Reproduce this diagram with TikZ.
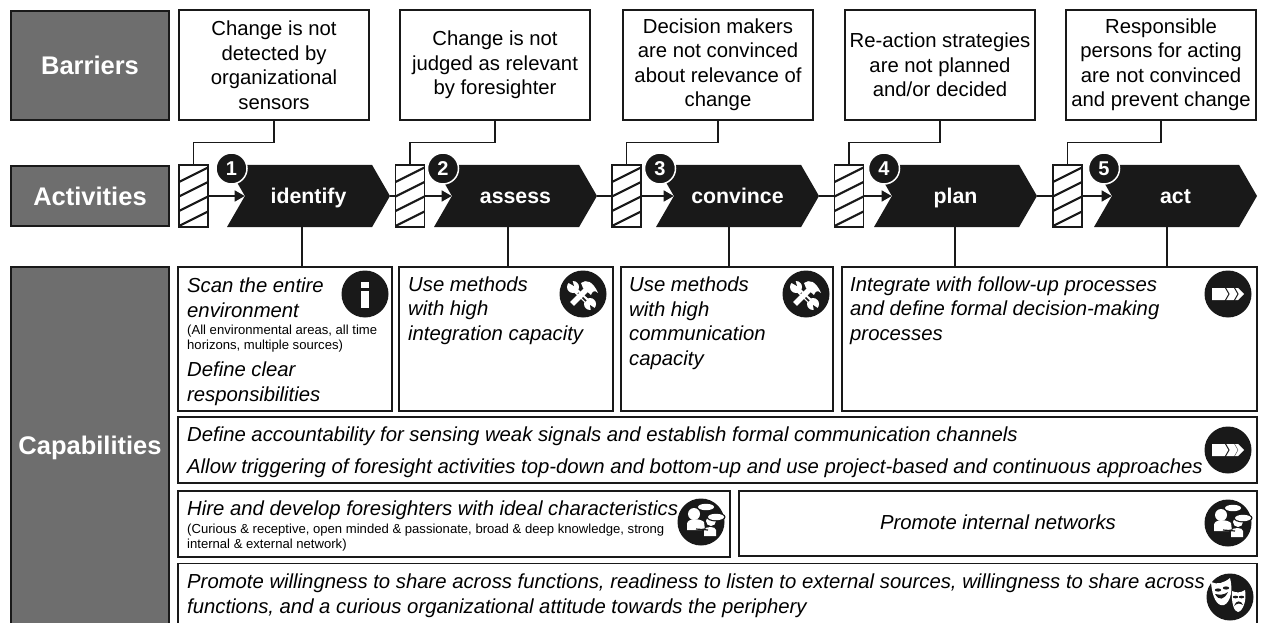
\documentclass[tikz,border=0pt]{standalone}
\usepackage{fontspec}
\setmainfont{Liberation Sans}
\usetikzlibrary{shapes.symbols}
\usetikzlibrary{arrows.meta}
\definecolor{headgray}{HTML}{6E6E6E}
\definecolor{darkfill}{HTML}{191919}
\tikzset{
    headbox/.style = {rectangle, draw=darkfill, line width=1.5pt, fill=headgray, text=white, inner sep=0pt, font=\fontsize{25.5}{30}\selectfont\bfseries},
    barbox/.style = {rectangle, draw=darkfill, line width=1.5pt, minimum width=190pt, minimum height=110pt, inner sep=0pt, align=center, font=\fontsize{20.3}{24.5}\selectfont},
    capbox/.style = {rectangle, draw=darkfill, line width=1.5pt, inner sep=0pt},
    captext/.style = {anchor=base west, align=left, inner sep=0pt, font=\fontsize{20.3}{24.5}\selectfont\itshape},
    capnote/.style = {anchor=base west, align=left, inner sep=0pt, font=\fontsize{13.1}{15}\selectfont},
    hatchbox/.style = {rectangle, draw=darkfill, line width=1.5pt, fill=white, minimum width=29pt, minimum height=62pt, inner sep=0pt,
      path picture={
        \draw[line width=2.2pt,darkfill] ([yshift=1pt]path picture bounding box.south west) -- ++(32,-16);
        \draw[line width=2.2pt,darkfill] ([yshift=16pt]path picture bounding box.south west) -- ++(32,-16);
        \draw[line width=2.2pt,darkfill] ([yshift=30.5pt]path picture bounding box.south west) -- ++(32,-16);
        \draw[line width=2.2pt,darkfill] ([yshift=45pt]path picture bounding box.south west) -- ++(32,-16);
      }},
    chevron/.style = {signal, signal to=east, signal from=west, signal pointer angle=120, fill=darkfill, text=white, minimum width=163pt, minimum height=62pt, inner sep=0pt, text height=15.4pt, text depth=0pt, font=\fontsize{21.3}{25}\selectfont\bfseries},
    stepnum/.style = {circle, draw=white, line width=1.5pt, fill=darkfill, text=white, minimum size=31pt, inner sep=0pt, font=\fontsize{20}{22}\selectfont\bfseries},
    icondisc/.style = {circle, fill=darkfill, minimum size=47pt, inner sep=0pt},
    link/.style = {draw=darkfill, line width=1.5pt},
    flow/.style = {draw=darkfill, line width=1.5pt, -{Triangle[length=10pt,width=11pt]}},
    iconinfo/.pic = {
      \fill[white] (-4,-12) rectangle (3.5,-6);
      \fill[white] (-4,-3) rectangle (3.5,14);
    },
    icontools/.pic = {
      \draw[white,line width=5pt] (-9,-5) -- (6,9);
      \fill[white] (-10,-7) circle (6);
      \fill[white] (7,10) circle (6);
      \fill[darkfill] (-16,-12) -- (-9,-8) -- (-11,-15) -- cycle;
      \fill[darkfill] (13,15) -- (7,11) -- (8,18) -- cycle;
      \draw[darkfill,line width=1.5pt] (-5,-1) -- (3,7);
      \draw[white,line width=5.5pt] (-11,10) -- (4,-5);
      \fill[white] (-2,-11) .. controls (3,-15) and (10,-13) .. (15,-1) .. controls (12,-4) and (9,-3) .. (8,1) -- (0,-6) -- cycle;
    },
    iconchain/.pic = {
      \fill[white] (-16,-6) -- (10,-6) -- (16,0) -- (10,6) -- (-16,6) -- cycle;
      \draw[darkfill,line width=1pt] (-3,-7) -- (1,0) -- (-3,7);
      \draw[darkfill,line width=#1] (6,-7) -- (10,0) -- (6,7);
    },
    iconpeople/.pic = {
      \fill[white] (-7,-8) circle (6);
      \fill[white] (-14,8) -- (-14,2) .. controls (-14,-4) and (-1,-4) .. (3,0) -- (4,8) -- cycle;
      \fill[white] (5,-15) ellipse (8 and 3.2);
      \fill[darkfill] (10,0) circle (6);
      \fill[white] (10,-1) circle (5);
      \fill[darkfill] (1,15) -- (1,7) -- (16,3) -- (16,15) -- cycle;
      \fill[white] (3,14) -- (3,8) .. controls (4,4) and (15,4) .. (15,8) -- (15,14) -- cycle;
      \fill[darkfill] (15,-5) ellipse (9.5 and 4.5);
      \fill[white] (15,-5) ellipse (8 and 3.2);
      \draw[darkfill,line width=1.2pt] (-5,7) -- (7,8);
    },
    iconmasks/.pic = {
      \fill[white] (-19,-15) .. controls (-13,-12) and (-6,-14) .. (0,-19) .. controls (3,-8) and (1,5) .. (-6,8) .. controls (-13,10) and (-18,0) .. cycle;
      \fill[darkfill] (-12,-7) ellipse (3.2 and 1.6);
      \fill[darkfill] (-4,-9) ellipse (3.2 and 1.6);
      \fill[darkfill] (-15,-3) .. controls (-11,4) and (-6,3) .. (-2,-5) .. controls (-6,-2) and (-10,-2) .. cycle;
      \fill[white] (2,-6) .. controls (6,-4) and (11,-4) .. (15,-7) .. controls (17,3) and (13,14) .. (8,15) .. controls (4,15) and (1,5) .. cycle;
      \fill[darkfill] (5.5,0) ellipse (2.7 and 1.3);
      \fill[darkfill] (11.5,0) ellipse (2.7 and 1.3);
      \fill[darkfill] (4,9) .. controls (6,3) and (11,3) .. (13,8) .. controls (10,6) and (7,6) .. cycle;
    },
}
\begin{document}
\begin{tikzpicture}[x=1pt,y=-1pt]
  \path[use as bounding box,clip] (0,0) rectangle (1261,623);

  % left column
  \node[headbox, minimum width=158pt, minimum height=109pt] (barriers) at (90,65.5) {Barriers};
  \node[headbox, minimum width=158pt, minimum height=60pt] (activities) at (90,196) {Activities};
  \node[headbox, minimum width=158pt, minimum height=362pt] (capabilities) at (90,448) {Capabilities};

  % barriers
  \node[barbox] (bar1) at (274,65) {Change is not\\detected by\\organizational\\sensors};
  \node[barbox] (bar2) at (495,65) {Change is not\\judged as relevant\\by foresighter};
  \node[barbox] (bar3) at (718,65) {Decision makers\\are not convinced\\about relevance of\\change};
  \node[barbox] (bar4) at (940,65) {Re-action strategies\\are not planned\\and/or decided};
  \node[barbox] (bar5) at (1161,65) {Responsible\\persons for acting\\are not convinced\\and prevent change};

  % activities
  \node[hatchbox] (hatch1) at (193.5,196) {};
  \node[hatchbox] (hatch2) at (410,196) {};
  \node[hatchbox] (hatch3) at (626.5,196) {};
  \node[hatchbox] (hatch4) at (849,196) {};
  \node[hatchbox] (hatch5) at (1067.5,196) {};
  \node[chevron] (chev1) at (308.5,196) {identify};
  \node[chevron] (chev2) at (515.5,196) {assess};
  \node[chevron] (chev3) at (737.5,196) {convince};
  \node[chevron] (chev4) at (955.5,196) {plan};
  \node[chevron] (chev5) at (1175.5,196) {act};

  % capabilities
  \node[capbox, minimum width=214pt, minimum height=144pt] (capa) at (285,339) {};
  \node[capbox, minimum width=214pt, minimum height=144pt] (capb) at (506,339) {};
  \node[capbox, minimum width=212pt, minimum height=144pt] (capc) at (727,339) {};
  \node[capbox, minimum width=415pt, minimum height=144pt] (capd) at (1049.5,339) {};
  \node[capbox, minimum width=1079pt, minimum height=66pt] (cape) at (717.5,450) {};
  \node[capbox, minimum width=552pt, minimum height=66pt] (capf) at (454,524) {};
  \node[capbox, minimum width=518pt, minimum height=65pt] (capg) at (998,523.5) {};
  \node[capbox, minimum width=1079pt, minimum height=67pt] (caph) at (717.5,597) {};

  \node[captext] (scan) at (187,317) {Scan the entire\\environment};
  \node[capnote] (scannote) at (187,349) {(All environmental areas, all time\\horizons, multiple sources)};
  \node[captext] (resp) at (187,401) {Define clear\\responsibilities};
  \node[captext] (methb) at (408,340) {Use methods\\with high\\integration capacity};
  \node[captext] (methc) at (629,365) {Use methods\\with high\\communication\\capacity};
  \node[captext] (integ) at (850,340) {Integrate with follow-up processes\\and define formal decision-making\\processes};
  \node[captext] (account) at (187,441) {Define accountability for sensing weak signals and establish formal communication channels};
  \node[captext] (trigger) at (187,473) {Allow triggering of foresight activities top-down and bottom-up and use project-based and continuous approaches};
  \node[captext] (hire) at (187,515) {Hire and develop foresighters with ideal characteristics};
  \node[capnote] (hirenote) at (187,548) {(Curious \& receptive, open minded \& passionate, broad \& deep knowledge, strong\\internal \& external network)};
  \node[captext, anchor=base] (promote) at (998,529) {Promote internal networks};
  \node[captext] (willing) at (187,613) {Promote willingness to share across functions, readiness to listen to external sources, willingness to share across\\functions, and a curious organizational attitude towards the periphery};

  % connectors
  \draw[link] (bar1.south) -- ++(0,22) -| (hatch1.north);
  \draw[link] (bar2.south) -- ++(0,22) -| (hatch2.north);
  \draw[link] (bar3.south) -- ++(0,22) -| (hatch3.north);
  \draw[link] (bar4.south) -- ++(0,22) -| (hatch4.north);
  \draw[link] (bar5.south) -- ++(0,22) -| (hatch5.north);
  \draw[link] (chev1.east) -- (hatch2.west);
  \draw[link] (chev2.east) -- (hatch3.west);
  \draw[link] (chev3.east) -- (hatch4.west);
  \draw[link] (chev4.east) -- (hatch5.west);
  \draw[flow] (hatch1.east) -- (chev1.west);
  \draw[flow] (hatch2.east) -- (chev2.west);
  \draw[flow] (hatch3.east) -- (chev3.west);
  \draw[flow] (hatch4.east) -- (chev4.west);
  \draw[flow] (hatch5.east) -- (chev5.west);
  \draw[link] ([xshift=-6.5pt]chev1.south) -- ([xshift=17pt]capa.north);
  \draw[link] ([xshift=-7.5pt]chev2.south) -- ([xshift=2pt]capb.north);
  \draw[link] ([xshift=-8.5pt]chev3.south) -- ([xshift=2pt]capc.north);
  \draw[link] ([xshift=-0.5pt]chev4.south) -- ([xshift=-94.5pt]capd.north);
  \draw[link] ([xshift=-8.5pt]chev5.south) -- ([xshift=117.5pt]capd.north);

  % step numbers
  \node[stepnum] (num1) at (231.5,168.5) {1};
  \node[stepnum] (num2) at (443,168.5) {2};
  \node[stepnum] (num3) at (660,168.5) {3};
  \node[stepnum] (num4) at (884,168.5) {4};
  \node[stepnum] (num5) at (1104,168.5) {5};

  % icons
  \node[icondisc] (disca) at (365,294) {};
  \node[icondisc] (discb) at (583,294) {};
  \node[icondisc] (discc) at (806,294) {};
  \node[icondisc] (discd) at (1228,294) {};
  \node[icondisc] (disce) at (1228,450) {};
  \node[icondisc] (discf) at (701,522) {};
  \node[icondisc] (discg) at (1228,523) {};
  \node[icondisc] (disch) at (1230,597) {};
  \pic at (disca) {iconinfo};
  \pic at (discb) {icontools};
  \pic at (discc) {icontools};
  \pic at (discd) {iconchain=1pt};
  \pic at (disce) {iconchain=0.3pt};
  \pic at (discf) {iconpeople};
  \pic at (discg) {iconpeople};
  \pic at (disch) {iconmasks};
\end{tikzpicture}
\end{document}
